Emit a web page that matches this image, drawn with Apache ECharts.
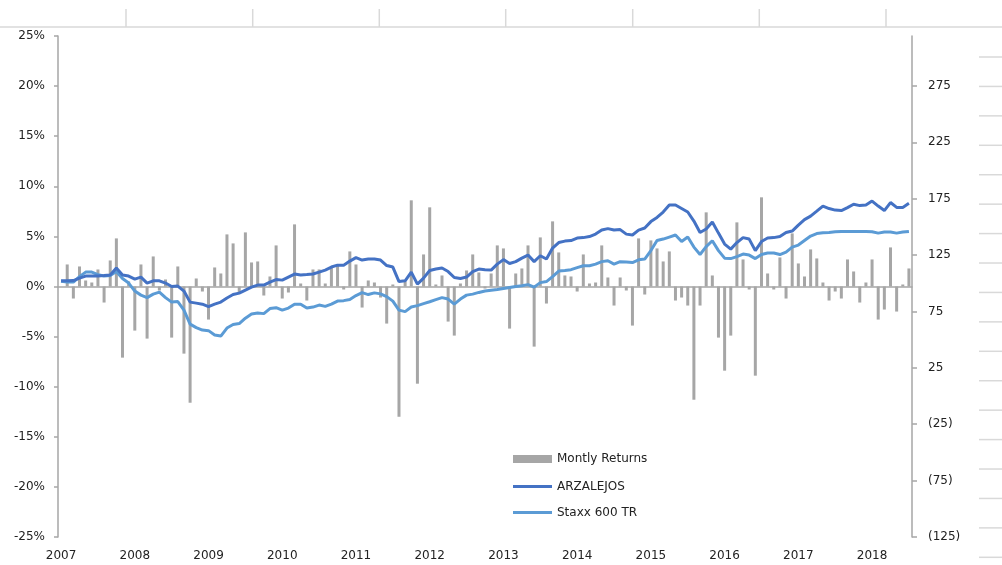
<!DOCTYPE html>
<html>
<head>
<meta charset="utf-8">
<script src="https://cdn.jsdelivr.net/npm/echarts@6/dist/echarts.min.js"></script>
<style>
html,body{margin:0;padding:0;background:#fff;}
#c{width:1002px;height:565px;}
</style>
</head>
<body>
<div id="c"></div>
<script>
// ---- data ----
const years = [2007,2008,2009,2010,2011,2012,2013,2014,2015,2016,2017,2018];
const lastMonthOfLastYear = 7; // Jul 2018
const categories = [];
years.forEach(y => {
  const n = (y === years[years.length-1]) ? lastMonthOfLastYear : 12;
  for (let m = 1; m <= n; m++) categories.push(y + '-' + (m < 10 ? '0' + m : m));
});

const monthlyReturns = [null,2.2,-1.2,2.0,0.6,0.4,1.7,-1.6,2.6,4.8,
-7.1,0.5,-4.4,2.2,-5.2,3.0,-0.4,0.7,-5.1,2.0,
-6.7,-11.6,0.8,-0.5,-3.3,1.9,1.3,5.2,4.3,-0.6,
5.4,2.4,2.5,-0.9,1.0,4.1,-1.2,-0.6,6.2,0.3,
-1.4,1.7,1.7,0.3,1.9,2.1,-0.3,3.5,2.2,-2.1,
0.6,0.4,-1.1,-3.7,0.2,-13.0,0.5,8.6,-9.7,3.2,
7.9,0.2,1.1,-3.5,-4.9,0.3,1.6,3.2,1.4,-0.2,
1.3,4.1,3.8,-4.2,1.3,1.8,4.1,-6.0,4.9,-1.7,
6.5,3.4,1.1,1.0,-0.5,3.2,0.3,0.4,4.1,0.9,
-1.9,0.9,-0.4,-3.9,4.8,-0.8,4.6,3.8,2.5,3.5,
-1.4,-1.1,-1.9,-11.3,-1.9,7.4,1.1,-5.1,-8.4,-4.9,
6.4,2.7,-0.3,-8.9,8.9,1.3,-0.3,2.9,-1.2,5.3,
2.3,1.0,3.7,2.8,0.4,-1.4,-0.5,-1.2,2.7,1.5,
-1.6,0.4,2.7,-3.3,-2.3,3.9,-2.5,0.2,1.8];

const arzalejos = [102.2,102.2,102.4,104.6,106.4,106.4,106.4,106.8,107.3,113.5,
107.3,106.4,103.7,105.5,100.2,102.2,102.2,100.2,97.1,97.5,
93.1,83.3,82.4,81.5,79.3,81.5,83.3,86.9,90.0,91.3,
94.0,96.6,98.4,98.4,101.1,103.3,102.8,105.5,108.2,107.3,
107.7,108.2,109.9,111.7,114.4,116.1,116.1,119.7,122.8,120.6,
121.5,121.5,120.6,115.7,114.4,101.5,102.2,109.9,99.3,104.6,
111.3,112.6,113.5,110.4,105.1,104.3,105.5,110.4,112.6,112.1,
111.7,117.0,121.0,117.5,119.2,122.3,125.0,119.2,124.4,121.5,
131.2,136.1,137.4,137.9,140.1,140.5,141.4,143.6,147.2,148.5,
147.2,147.6,143.6,142.8,147.2,149.0,154.7,158.4,163.2,169.4,
169.4,166.3,163.2,155.2,145.0,148.1,154.3,144.5,134.8,130.3,
136.1,140.5,139.2,129.0,137.0,140.1,140.5,141.4,145.0,146.3,
151.6,156.5,159.6,164.0,168.5,166.3,164.9,164.5,167.1,170.1,
168.9,169.4,172.9,168.5,164.5,171.6,167.3,167.3,170.9];

const stoxx600 = [101.9,101.1,101.1,105.9,109.9,109.9,107.7,106.4,106.8,110.4,
104.2,100.2,93.1,89.5,87.3,90.4,92.2,87.3,83.3,83.8,
76.2,63.8,60.7,58.5,58.0,54.1,53.2,60.3,63.4,64.3,
69.1,72.7,73.6,73.1,77.6,78.4,76.2,78.0,81.5,81.5,
78.0,78.9,80.7,79.5,81.5,84.2,84.6,85.7,89.1,91.7,
90.0,91.5,90.6,88.2,84.2,76.2,74.9,78.9,80.2,82.0,
83.6,85.5,87.3,86.0,81.5,86.0,89.5,90.4,91.9,93.1,
93.8,94.4,95.3,96.2,97.1,97.9,98.8,96.6,100.6,101.5,
105.9,110.8,111.4,112.1,113.9,115.5,115.5,117.0,119.2,120.0,
117.0,119.2,118.8,118.4,120.8,121.5,129.0,137.9,139.2,141.0,
142.8,137.0,141.0,132.1,125.5,132.5,137.7,129.0,122.3,121.9,
123.7,125.9,125.0,121.9,125.5,126.8,126.8,125.5,127.7,132.1,
133.9,137.9,141.9,144.1,144.8,145.1,145.7,146.0,146.0,146.0,
146.0,146.0,145.7,144.5,145.4,145.4,144.5,145.4,146.0];

const leftTicks = [-25,-20,-15,-10,-5,0,5,10,15,20,25];
const rightTicks = [-125,-75,-25,25,75,125,175,225,275];
const seriesNames = ['Montly Returns','ARZALEJOS','Staxx 600 TR'];

// ---- chart ----
const FONT = 'DejaVu Sans';
const AXIS_COLOR = '#a6a6a6';
const TEXT_COLOR = '#222';
const chart = echarts.init(document.getElementById('c'), null, {renderer:'canvas'});

// spreadsheet cell lines (decoration behind chart)
const graphics = [];
graphics.push({type:'line', shape:{x1:0,y1:27,x2:1002,y2:27}, style:{stroke:'#d9d9d9',lineWidth:1.5}, silent:true, z:-10});
[126,252.7,379.3,505.7,632.7,759.3,886].forEach(x=>{
  graphics.push({type:'line', shape:{x1:x,y1:9,x2:x,y2:27}, style:{stroke:'#d9d9d9',lineWidth:1.5}, silent:true, z:-10});
});
for (let k=0;k<18;k++){
  const y = 57 + k*29.43;
  graphics.push({type:'line', shape:{x1:979,y1:y,x2:1002,y2:y}, style:{stroke:'#d9d9d9',lineWidth:1.5}, silent:true, z:-10});
}

const legendText = {fontFamily:FONT, fontSize:12, color:TEXT_COLOR};

chart.setOption({
  animation:false,
  backgroundColor:'#fff',
  textStyle:{fontFamily:FONT},
  graphic: graphics,
  grid:{left:58, right:90, top:36, bottom:28, containLabel:false},
  legend:[
    {
      orient:'vertical', left:513, top:453, padding:0,
      itemWidth:39, itemHeight:8, itemGap:14,
      textStyle:legendText,
      data:[{name:seriesNames[0], icon:'rect'}]
    },
    {
      orient:'vertical', left:513, top:480.5, padding:0,
      itemWidth:39, itemHeight:3, itemGap:14,
      textStyle:legendText,
      data:[{name:seriesNames[1], icon:'rect'},{name:seriesNames[2], icon:'rect'}]
    }
  ],
  xAxis:[
    {
      type:'category', data:categories, boundaryGap:true,
      axisLine:{onZero:true, lineStyle:{color:AXIS_COLOR, width:1.5}},
      axisTick:{show:false}, axisLabel:{show:false}, splitLine:{show:false}
    },
    {
      type:'category', data:categories, boundaryGap:true, position:'bottom',
      axisLine:{show:false}, axisTick:{show:false}, splitLine:{show:false},
      axisLabel:{
        margin:13, fontFamily:FONT, fontSize:12, color:TEXT_COLOR,
        interval:(idx)=> idx % 12 === 0,
        formatter:(v)=> v.slice(0,4)
      }
    }
  ],
  yAxis:[
    {
      type:'value', min:leftTicks[0], max:leftTicks[leftTicks.length-1], interval:5,
      axisLine:{show:true, lineStyle:{color:AXIS_COLOR, width:1.5}},
      axisTick:{show:true, inside:false, length:4, lineStyle:{color:AXIS_COLOR, width:1.5}},
      splitLine:{show:false},
      axisLabel:{margin:13, fontFamily:FONT, fontSize:12, color:TEXT_COLOR, formatter:(v)=> v + '%'}
    },
    {
      type:'value', min:-125, max:319.3, position:'right',
      axisLine:{show:true, lineStyle:{color:AXIS_COLOR, width:1.5}},
      axisTick:{show:true, length:5, lineStyle:{color:AXIS_COLOR, width:1.5}, customValues:rightTicks},
      splitLine:{show:false},
      axisLabel:{margin:16, fontFamily:FONT, fontSize:12, color:TEXT_COLOR, customValues:rightTicks,
        formatter:(v)=> v < 0 ? '(' + Math.abs(v) + ')' : String(v)}
    }
  ],
  series:[
    {
      name:seriesNames[0], type:'bar', xAxisIndex:0, yAxisIndex:0,
      data:monthlyReturns, barWidth:3,
      itemStyle:{color:'#a6a6a6'}, z:2
    },
    {
      name:seriesNames[1], type:'line', xAxisIndex:0, yAxisIndex:1,
      data:arzalejos, symbol:'none', showSymbol:false, smooth:false,
      lineStyle:{color:'#4472c4', width:3}, itemStyle:{color:'#4472c4'}, z:4
    },
    {
      name:seriesNames[2], type:'line', xAxisIndex:0, yAxisIndex:1,
      data:stoxx600, symbol:'none', showSymbol:false, smooth:false,
      lineStyle:{color:'#5b9bd5', width:3}, itemStyle:{color:'#5b9bd5'}, z:3
    }
  ]
});
</script>
</body>
</html>
